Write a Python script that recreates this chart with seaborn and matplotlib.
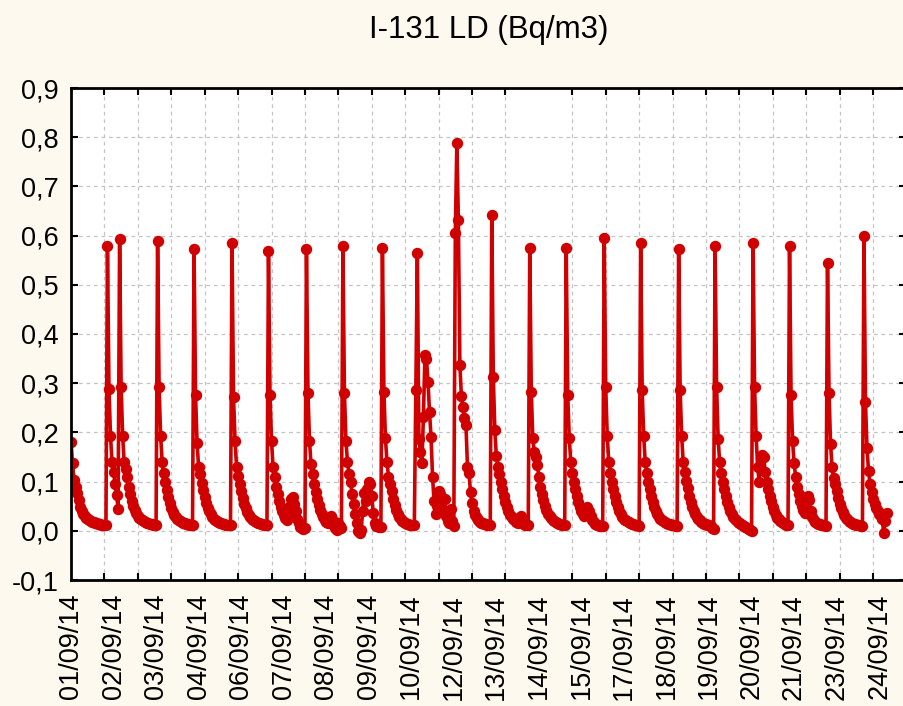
import numpy as np
import pandas as pd
import matplotlib
matplotlib.use("Agg")
import matplotlib.pyplot as plt
import seaborn as sns
from matplotlib.ticker import FixedLocator, MultipleLocator

# ---- data: I-131 values, one list per daily cycle (consecutive cases) ----
seg01 = [0.181, 0.138, 0.103, 0.09, 0.077, 0.063, 0.049, 0.041, 0.035, 0.031, 0.027, 0.024,
         0.022, 0.020, 0.018, 0.017, 0.016, 0.015, 0.014, 0.013, 0.012, 0.012, 0.011, 0.011]
seg02 = [0.579, 0.288, 0.193, 0.14, 0.12, 0.095, 0.073, 0.045]
seg03 = [0.594, 0.292, 0.193, 0.14, 0.125, 0.11, 0.09, 0.075, 0.06, 0.05, 0.042, 0.036, 0.031,
         0.027, 0.024, 0.021, 0.019, 0.017, 0.016, 0.015, 0.014, 0.013, 0.012, 0.012, 0.011]
seg04 = [0.589, 0.292, 0.193, 0.14, 0.117, 0.1, 0.083, 0.068, 0.056, 0.046, 0.038, 0.033,
         0.029, 0.025, 0.022, 0.02, 0.018, 0.016, 0.015, 0.014, 0.013, 0.012, 0.012, 0.011]
seg05 = [0.573, 0.276, 0.178, 0.13, 0.115, 0.098, 0.082, 0.068, 0.056, 0.047, 0.04, 0.034, 0.029,
         0.025, 0.022, 0.02, 0.018, 0.016, 0.015, 0.014, 0.013, 0.012, 0.012, 0.011, 0.011]
seg06 = [0.584, 0.271, 0.183, 0.13, 0.112, 0.095, 0.08, 0.066, 0.055, 0.046, 0.039, 0.033,
         0.028, 0.025, 0.022, 0.02, 0.018, 0.016, 0.015, 0.014, 0.013, 0.012, 0.011, 0.011]
seg07 = [0.568, 0.276, 0.183, 0.13, 0.11, 0.09, 0.075, 0.06, 0.048, 0.04, 0.033, 0.027, 0.022,
         0.035, 0.05, 0.065, 0.068, 0.055, 0.04, 0.025, 0.015, 0.008, 0.005, 0.004, 0.006]
seg08 = [0.572, 0.281, 0.183, 0.135, 0.115, 0.095, 0.078, 0.064, 0.052, 0.043, 0.035, 0.028,
         0.022, 0.018, 0.015, 0.02, 0.03, 0.025, 0.012, 0.005, 0.002, 0.015, 0.01, 0.005]
seg09 = [0.578, 0.281, 0.183, 0.14, 0.115, 0.1, 0.075, 0.055, 0.035, 0.015, 0.0, -0.004, 0.002,
         0.04, 0.077, 0.06, 0.085, 0.1, 0.095, 0.07, 0.036, 0.016, 0.01, 0.009, 0.008, 0.007]
seg10 = [0.574, 0.283, 0.188, 0.14, 0.11, 0.095, 0.08, 0.065, 0.052, 0.042, 0.034,
         0.028, 0.023, 0.02, 0.017, 0.015, 0.014, 0.013, 0.012, 0.012, 0.011, 0.011]
seg11 = [0.286, 0.564, 0.187, 0.16, 0.138, 0.232, 0.358, 0.35, 0.303, 0.242, 0.191, 0.11, 0.06,
         0.035, 0.05, 0.08, 0.075, 0.06, 0.04, 0.065, 0.03, 0.02, 0.015, 0.045, 0.02, 0.01]
seg12 = [0.606, 0.789, 0.632, 0.337, 0.273, 0.252, 0.229, 0.215, 0.13, 0.117, 0.078, 0.056,
         0.04, 0.032, 0.026, 0.021, 0.018, 0.016, 0.015, 0.014, 0.013, 0.012, 0.011, 0.011]
seg13 = [0.642, 0.313, 0.205, 0.152, 0.13, 0.115, 0.1, 0.085, 0.07, 0.058, 0.048, 0.04, 0.033,
         0.028, 0.024, 0.021, 0.018, 0.016, 0.022, 0.03, 0.016, 0.013, 0.012, 0.011, 0.011]
seg14 = [0.574, 0.283, 0.188, 0.161, 0.15, 0.133, 0.11, 0.09, 0.075, 0.062, 0.05, 0.042,
         0.035, 0.03, 0.026, 0.022, 0.019, 0.017, 0.015, 0.014, 0.013, 0.012, 0.011, 0.011]
seg15 = [0.574, 0.276, 0.188, 0.14, 0.117, 0.1, 0.085, 0.07, 0.058, 0.048, 0.04, 0.034, 0.03,
         0.035, 0.048, 0.04, 0.03, 0.022, 0.017, 0.014, 0.012, 0.011, 0.01, 0.01, 0.01]
seg16 = [0.596, 0.292, 0.193, 0.14, 0.118, 0.1, 0.085, 0.07, 0.058, 0.048, 0.04, 0.034,
         0.029, 0.025, 0.022, 0.019, 0.017, 0.015, 0.014, 0.013, 0.012, 0.011, 0.011, 0.01]
seg17 = [0.584, 0.286, 0.193, 0.14, 0.117, 0.1, 0.084, 0.07, 0.058, 0.048, 0.04, 0.034, 0.029,
         0.025, 0.022, 0.019, 0.017, 0.015, 0.014, 0.013, 0.012, 0.011, 0.011, 0.01, 0.01]
seg18 = [0.573, 0.286, 0.193, 0.14, 0.12, 0.102, 0.086, 0.071, 0.059, 0.049, 0.041, 0.034,
         0.029, 0.025, 0.021, 0.018, 0.016, 0.014, 0.013, 0.012, 0.011, 0.009, 0.006, 0.003]
seg19 = [0.579, 0.292, 0.187, 0.14, 0.117, 0.1, 0.085, 0.07, 0.058, 0.048, 0.04, 0.034, 0.029,
         0.025, 0.021, 0.018, 0.016, 0.014, 0.012, 0.01, 0.008, 0.006, 0.004, 0.002, 0.0]
seg20 = [0.584, 0.292, 0.193, 0.13, 0.1, 0.145, 0.155, 0.15, 0.12, 0.1, 0.085, 0.07,
         0.06, 0.048, 0.04, 0.033, 0.027, 0.023, 0.02, 0.017, 0.015, 0.013, 0.012, 0.011]
seg21 = [0.579, 0.276, 0.183, 0.138, 0.11, 0.09, 0.075, 0.06, 0.05, 0.042, 0.036, 0.045, 0.07,
         0.062, 0.04, 0.028, 0.022, 0.018, 0.016, 0.014, 0.013, 0.012, 0.011, 0.011, 0.01]
seg22 = [0.544, 0.281, 0.177, 0.13, 0.107, 0.095, 0.08, 0.066, 0.055, 0.046, 0.038, 0.032,
         0.027, 0.023, 0.02, 0.018, 0.016, 0.014, 0.013, 0.012, 0.011, 0.011, 0.01, 0.01]
seg23 = [0.6, 0.261, 0.168, 0.122, 0.095, 0.078, 0.065, 0.055, 0.047, 0.04, 0.034, 0.03,
         0.024, -0.004, 0.02, 0.036]

date_labels = ["01/09/14", "02/09/14", "03/09/14", "04/09/14", "06/09/14", "07/09/14",
               "08/09/14", "09/09/14", "10/09/14", "12/09/14", "13/09/14", "14/09/14",
               "15/09/14", "17/09/14", "18/09/14", "19/09/14", "20/09/14", "21/09/14",
               "23/09/14", "24/09/14"]
y_ticks = [-0.1, 0.0, 0.1, 0.2, 0.3, 0.4, 0.5, 0.6, 0.7, 0.8, 0.9]
y_tick_labels = ["-0,1", "0,0", "0,1", "0,2", "0,3", "0,4", "0,5", "0,6", "0,7", "0,8", "0,9"]
title = "I-131 LD (Bq/m3)"

# ---- build table ----
segments = [seg01, seg02, seg03, seg04, seg05, seg06, seg07, seg08, seg09, seg10, seg11, seg12,
            seg13, seg14, seg15, seg16, seg17, seg18, seg19, seg20, seg21, seg22, seg23]
values = np.concatenate([np.asarray(s, float) for s in segments])
df = pd.DataFrame({"case": np.arange(len(values)), "value": values})

LABEL_STEP = 28   # cases between date labels
GRID_STEP = 22    # cases between grid lines
X_MAX = 550

RED = "#D00000"
BG = "#FDF9EE"

sns.set_theme(style="white")
plt.rcParams["font.family"] = ["Liberation Sans", "DejaVu Sans"]

W, H = 904, 706
fig = plt.figure(figsize=(W / 100, H / 100), dpi=100, facecolor=BG)
left, right, top, bottom = 71, 906.5, 88, 580
ax = fig.add_axes([left / W, 1 - bottom / H, (right - left) / W, (bottom - top) / H])
ax.set_facecolor("white")

sns.lineplot(data=df, x="case", y="value", ax=ax, color=RED, linewidth=2.6,
             marker="o", markersize=8.2, markeredgecolor=RED, markeredgewidth=0,
             estimator=None, sort=False)

ax.set_xlim(0, X_MAX)
ax.set_ylim(-0.1, 0.9)
ax.set_xlabel("")
ax.set_ylabel("")

# x: labels (major, no tick marks) and grid/ticks (minor)
ax.xaxis.set_major_locator(FixedLocator([i * LABEL_STEP for i in range(len(date_labels))]))
ax.set_xticklabels(date_labels, rotation=90)
ax.xaxis.set_minor_locator(MultipleLocator(GRID_STEP))
ax.set_yticks(y_ticks)
ax.set_yticklabels(y_tick_labels)

ax.tick_params(axis="x", which="major", length=0, pad=10, labelsize=19.5, colors="black")
ax.tick_params(axis="x", which="minor", direction="in", length=5, width=1.5,
               bottom=True, top=True, color="black")
ax.tick_params(axis="y", which="major", direction="in", length=5, width=1.5,
               left=True, right=True, pad=9, labelsize=19.5, colors="black")

ax.grid(False)
ax.grid(which="minor", axis="x", linestyle=(0, (3, 3)), color="#C4C4C4", linewidth=0.9)
ax.grid(which="major", axis="y", linestyle=(0, (3, 3)), color="#C4C4C4", linewidth=0.9)
ax.set_axisbelow(True)

for s in ax.spines.values():
    s.set_color("black")
    s.set_linewidth(2)

fig.text(489 / W, 1 - 30 / H, title, ha="center", va="center", fontsize=22.5, color="black")

fig.savefig("out.png", dpi=100, facecolor=BG)
